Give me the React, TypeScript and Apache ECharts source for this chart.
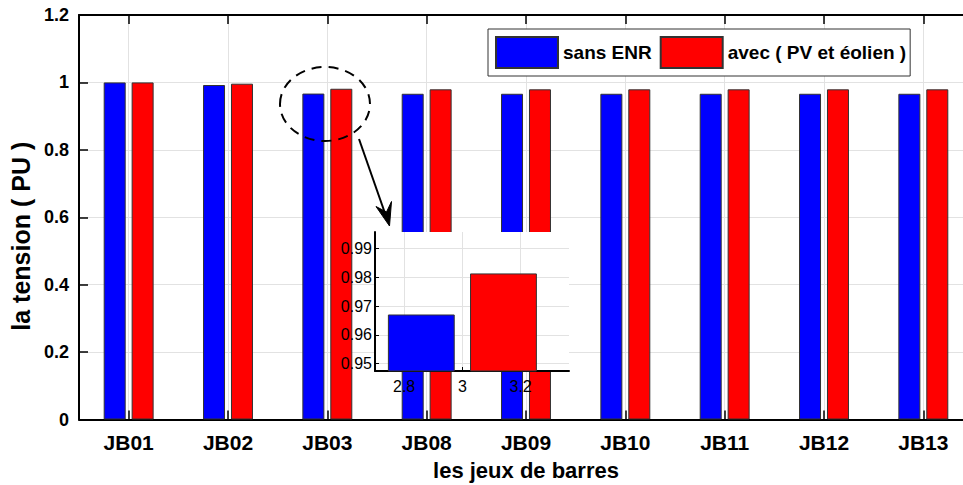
import React, { useEffect, useRef } from 'react';
import * as echarts from 'echarts';

const categories = ['JB01', 'JB02', 'JB03', 'JB08', 'JB09', 'JB10', 'JB11', 'JB12', 'JB13'];
const sansENR = [1.0, 0.9923, 0.9669, 0.9663, 0.9663, 0.9663, 0.9663, 0.9663, 0.9663];
const avecENR = [1.0, 0.9962, 0.9812, 0.9795, 0.9795, 0.9795, 0.9795, 0.9795, 0.9795];
const seriesNames = ['sans ENR', 'avec ( PV et éolien )'];
const seriesColors = ['#0000ff', '#ff0000'];
const mainYMin = 0;
const mainYMax = 1.2;
const mainYInterval = 0.2;
const insetCategoryIndex = 2; // JB03 is zoomed in the inset
const insetXMin = 2.7;
const insetXMax = 3.366;
const insetYMin = 0.9474;
const insetYMax = 0.9958;

const FONT = "'Liberation Sans', Arial, Helvetica, sans-serif";

export default function App() {
  const ref = useRef<HTMLDivElement>(null);
  useEffect(() => {
    document.body.style.margin = '0';
    if (!ref.current) return;
    const chart = echarts.init(ref.current, null, { renderer: 'svg' });
    const axisLineStyle = { color: '#000', width: 2 };
    const gridLineStyle = { color: '#e2e2e2', width: 1 };
    const insetCenter = insetCategoryIndex + 1;
    const insetOffset = 0.141;
    const insetBarW = 0.226;
    chart.setOption({
      animation: false,
      textStyle: { fontFamily: FONT },
      legend: {
        data: seriesNames,
        left: 488,
        top: 29,
        orient: 'horizontal',
        itemWidth: 62,
        itemHeight: 31,
        itemGap: 8,
        padding: [7, 4, 7, 7],
        icon: 'rect',
        borderColor: '#333',
        borderWidth: 1,
        backgroundColor: '#fff',
        textStyle: { fontSize: 19, fontWeight: 'bold', color: '#000', fontFamily: FONT },
        z: 20,
      },
      grid: [
        { left: 79, top: 15, width: 894, height: 404.5, outerBoundsMode: 'none', containLabel: false },
        {
          left: 375, top: 232, width: 194, height: 139, show: true, backgroundColor: '#fff',
          borderWidth: 0, z: 5, outerBoundsMode: 'none', containLabel: false,
        },
      ],
      xAxis: [
        {
          type: 'category',
          gridIndex: 0,
          position: 'bottom',
          data: categories,
          axisLine: { lineStyle: axisLineStyle },
          axisTick: { show: true, inside: true, length: 9, alignWithLabel: true, lineStyle: { color: '#000', width: 1.5 } },
          axisLabel: { fontSize: 21, fontWeight: 'bold', color: '#000', margin: 12, fontFamily: FONT },
          splitLine: { show: true, alignWithLabel: true, lineStyle: gridLineStyle },
          name: 'les jeux de barres',
          nameLocation: 'middle',
          nameGap: 40,
          nameTextStyle: { fontSize: 22, fontWeight: 'bold', color: '#000', fontFamily: FONT },
        },
        {
          type: 'category',
          gridIndex: 0,
          position: 'top',
          data: categories,
          axisLine: { lineStyle: axisLineStyle },
          axisTick: { show: true, inside: true, length: 9, alignWithLabel: true, lineStyle: { color: '#000', width: 1.5 } },
          axisLabel: { show: false },
          splitLine: { show: false },
        },
        {
          type: 'value',
          gridIndex: 1,
          position: 'bottom',
          min: insetXMin,
          max: insetXMax,
          minInterval: 0.2,
          maxInterval: 0.2,
          z: 6,
          axisLine: { show: true, onZero: false, lineStyle: axisLineStyle },
          axisTick: { show: true, inside: true, length: 4, lineStyle: { color: '#000', width: 1 } },
          axisLabel: { fontSize: 16, color: '#000', margin: 7, showMinLabel: false, showMaxLabel: false, fontFamily: FONT },
          splitLine: { show: true, showMinLine: false, showMaxLine: false, lineStyle: gridLineStyle },
        },
      ],
      yAxis: [
        {
          type: 'value',
          gridIndex: 0,
          min: mainYMin,
          max: mainYMax,
          interval: mainYInterval,
          axisLine: { show: true, lineStyle: axisLineStyle },
          axisTick: { show: true, inside: true, length: 9, lineStyle: { color: '#000', width: 1.5 } },
          axisLabel: { fontSize: 18, fontWeight: 'bold', color: '#000', margin: 10, fontFamily: FONT },
          splitLine: { show: true, lineStyle: gridLineStyle },
          name: 'la tension ( PU )',
          nameLocation: 'middle',
          nameGap: 37,
          nameTextStyle: { fontSize: 25, fontWeight: 'bold', color: '#000', fontFamily: FONT, padding: [0, 38, 0, 0] },
        },
        {
          type: 'value',
          gridIndex: 1,
          min: insetYMin,
          max: insetYMax,
          minInterval: 0.01,
          maxInterval: 0.01,
          z: 6,
          axisLine: { show: true, onZero: false, lineStyle: axisLineStyle },
          axisTick: { show: true, inside: true, length: 4, lineStyle: { color: '#000', width: 1 } },
          axisLabel: { fontSize: 16, color: '#000', margin: 3, showMinLabel: false, showMaxLabel: false, fontFamily: FONT },
          splitLine: { show: true, showMinLine: false, showMaxLine: false, lineStyle: gridLineStyle },
        },
      ],
      series: [
        {
          name: seriesNames[0],
          type: 'bar',
          xAxisIndex: 0,
          yAxisIndex: 0,
          data: sansENR,
          barWidth: 22,
          barGap: '27%',
          itemStyle: { color: seriesColors[0], borderColor: '#333', borderWidth: 1 },
        },
        {
          name: seriesNames[1],
          type: 'bar',
          xAxisIndex: 0,
          yAxisIndex: 0,
          data: avecENR,
          barWidth: 22,
          barGap: '27%',
          itemStyle: { color: seriesColors[1], borderColor: '#333', borderWidth: 1 },
        },
        {
          type: 'custom',
          xAxisIndex: 2,
          yAxisIndex: 1,
          z: 7,
          data: [
            [insetCenter - insetOffset, sansENR[insetCategoryIndex]],
            [insetCenter + insetOffset, avecENR[insetCategoryIndex]],
          ],
          renderItem: (params: any, api: any) => {
            const x = api.value(0);
            const v = api.value(1);
            const p1 = api.coord([x - insetBarW / 2, v]);
            const p2 = api.coord([x + insetBarW / 2, insetYMin]);
            return {
              type: 'rect',
              shape: { x: p1[0], y: p1[1], width: p2[0] - p1[0], height: p2[1] - p1[1] },
              style: { fill: seriesColors[params.dataIndex], stroke: '#333', lineWidth: 1 },
            };
          },
        },
      ],
      graphic: [
        {
          type: 'ellipse',
          z: 50,
          shape: { cx: 325, cy: 104, rx: 45, ry: 37 },
          style: { fill: 'none', stroke: '#000', lineWidth: 2, lineDash: [10, 7] },
        },
        {
          type: 'line',
          z: 50,
          shape: { x1: 359, y1: 139, x2: 387, y2: 219 },
          style: { stroke: '#000', lineWidth: 2 },
        },
        {
          type: 'polygon',
          z: 50,
          shape: { points: [[389.5, 226], [376, 206.5], [386.5, 212], [391.5, 201.5]] },
          style: { fill: '#000', stroke: '#000', lineWidth: 1 },
        },
      ],
    });
    return () => chart.dispose();
  }, []);
  return <div ref={ref} style={{ width: 963, height: 485, position: 'absolute', left: 0, top: 0 }} />;
}
